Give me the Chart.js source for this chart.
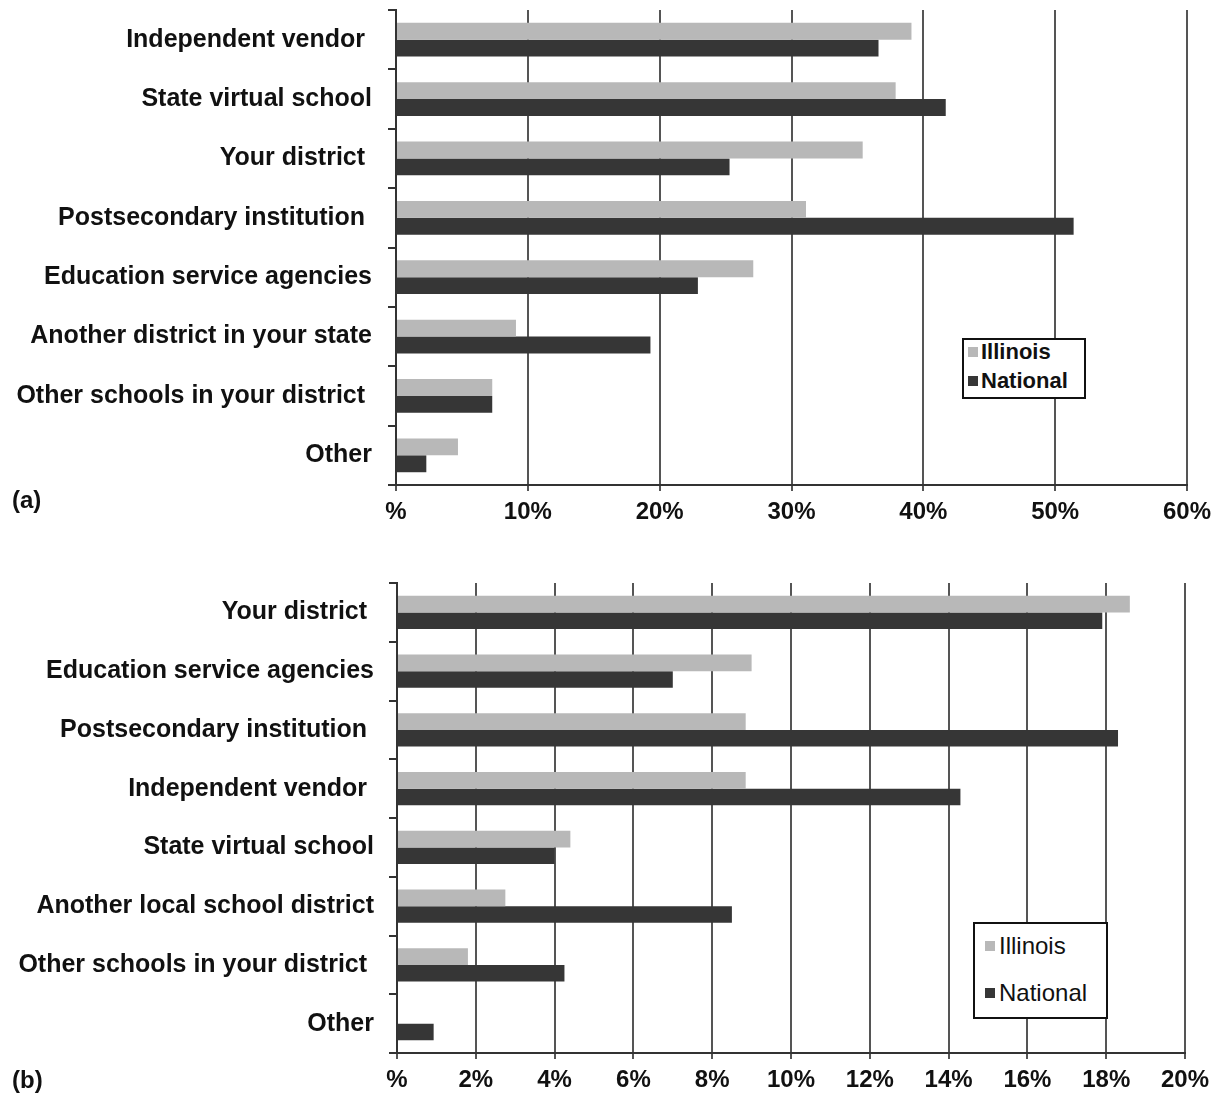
<!DOCTYPE html>
<html>
<head>
<meta charset="utf-8">
<script src="https://cdn.jsdelivr.net/npm/chart.js@4.4.1/dist/chart.umd.min.js"></script>
<style>
  html, body { margin: 0; padding: 0; background: #fff; }
  body { width: 1219px; height: 1096px; position: relative; overflow: hidden;
         font-family: "Liberation Sans", Arial, sans-serif; color: #111; }
  canvas { position: absolute; left: 0; }
  #cA { top: 0; }
  #cB { top: 560px; }
  .panel { position: absolute; font-weight: bold; font-size: 24px; }
  .legend { position: absolute; background: #fff; border: 2px solid #111; box-sizing: border-box; }
  .legend .item { position: absolute; left: 0; display: flex; align-items: center; white-space: nowrap; }
  .legend .sw { display: inline-block; }
</style>
</head>
<body>
<canvas id="cA" width="1219" height="530"></canvas>
<canvas id="cB" width="1219" height="536"></canvas>
<div class="panel" style="left:12px; top:486px;">(a)</div>
<div class="panel" style="left:12px; top:1066px;">(b)</div>
<div id="legA" class="legend" style="left:962px; top:338px; width:124px; height:61px;"></div>
<div id="legB" class="legend" style="left:973px; top:922px; width:135px; height:97px;"></div>
<script>
// ---- data ----
const seriesNames = ['Illinois', 'National'];
const seriesColors = ['#b8b8b8', '#363636'];

const categoriesA = ['Independent vendor ', 'State virtual school', 'Your district ', 'Postsecondary institution ',
  'Education service agencies', 'Another district in your state', 'Other schools in your district ', 'Other'];
const illinoisA = [39.1, 37.9, 35.4, 31.1, 27.1, 9.1, 7.3, 4.7];
const nationalA = [36.6, 41.7, 25.3, 51.4, 22.9, 19.3, 7.3, 2.3];
const maxA = 60, stepA = 10;

const categoriesB = ['Your district ', 'Education service agencies', 'Postsecondary institution ', 'Independent vendor ',
  'State virtual school', 'Another local school district', 'Other schools in your district ', 'Other'];
const illinoisB = [18.6, 9.0, 8.85, 8.85, 4.4, 2.75, 1.8, 0];
const nationalB = [17.9, 7.0, 18.3, 14.3, 4.0, 8.5, 4.25, 0.93];
const maxB = 20, stepB = 2;

const FONT = '"Liberation Sans", Arial, sans-serif';

function makeChart(id, cats, ill, nat, max, step, cfg) {
  return new Chart(document.getElementById(id), {
    type: 'bar',
    data: {
      labels: cats,
      datasets: [
        { label: seriesNames[0], data: ill, backgroundColor: seriesColors[0], borderWidth: 0,
          categoryPercentage: 0.57, barPercentage: 1.0 },
        { label: seriesNames[1], data: nat, backgroundColor: seriesColors[1], borderWidth: 0,
          categoryPercentage: 0.57, barPercentage: 1.0 }
      ]
    },
    options: {
      indexAxis: 'y',
      responsive: false,
      animation: false,
      events: [],
      layout: { padding: { top: cfg.padTop, right: cfg.padRight, left: 0, bottom: 0 } },
      plugins: { legend: { display: false }, tooltip: { enabled: false } },
      scales: {
        x: {
          min: 0, max: max,
          afterFit: s => { s.height = cfg.xHeight; },
          ticks: { stepSize: step, color: '#111', padding: 7,
                   font: { family: FONT, size: 24, weight: 'bold' },
                   callback: v => v === 0 ? '%' : v + '%' },
          grid: { color: '#555', lineWidth: 2, tickLength: 6, drawTicks: true },
          border: { display: true, color: '#333', width: 2 }
        },
        y: {
          afterFit: s => { s.width = cfg.yWidth; s.paddingTop = 0; s.paddingBottom = 0; },
          ticks: { color: '#111', padding: cfg.yPad, font: { family: FONT, size: 25, weight: 'bold' } },
          grid: { offset: true, drawOnChartArea: false, drawTicks: true, tickLength: 8, color: '#333', lineWidth: 2 },
          border: { display: true, color: '#333', width: 2 }
        }
      }
    }
  });
}

makeChart('cA', categoriesA, illinoisA, nationalA, maxA, stepA,
  { padTop: 10, padRight: 32, xHeight: 45, yWidth: 396, yPad: 16 });
makeChart('cB', categoriesB, illinoisB, nationalB, maxB, stepB,
  { padTop: 23, padRight: 34, xHeight: 43, yWidth: 397, yPad: 15 });

function buildLegend(id, opt) {
  const box = document.getElementById(id);
  seriesNames.forEach((name, i) => {
    const it = document.createElement('div');
    it.className = 'item';
    it.style.left = opt.left + 'px';
    it.style.top = (opt.first + i * opt.gap - opt.lh / 2) + 'px';
    it.style.height = opt.lh + 'px';
    it.style.font = opt.weight + ' ' + opt.size + 'px ' + FONT;
    const sw = document.createElement('span');
    sw.className = 'sw';
    sw.style.width = opt.sw + 'px';
    sw.style.height = opt.sw + 'px';
    sw.style.background = seriesColors[i];
    sw.style.marginRight = opt.swGap + 'px';
    it.appendChild(sw);
    it.appendChild(document.createTextNode(name));
    box.appendChild(it);
  });
}
buildLegend('legA', { left: 4, first: 12, gap: 29, lh: 26, size: 22, weight: 'bold', sw: 10, swGap: 3 });
buildLegend('legB', { left: 10, first: 22, gap: 47, lh: 30, size: 24, weight: 'normal', sw: 10, swGap: 4 });
</script>
</body>
</html>
